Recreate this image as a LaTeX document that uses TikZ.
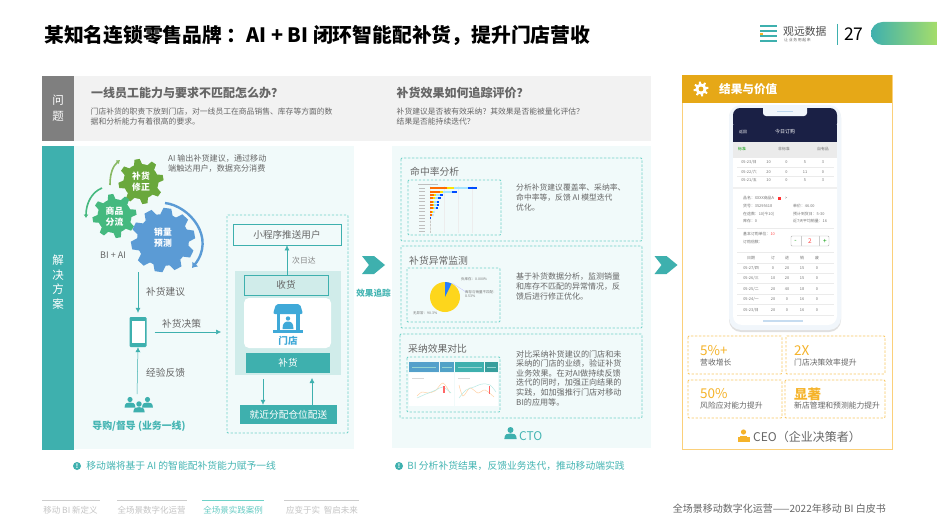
\documentclass[tikz,border=0pt]{standalone}
\usepackage{fontspec}
\setmainfont{Noto Sans CJK SC}
\usetikzlibrary{arrows.meta,positioning}
\definecolor{tealmain}{HTML}{3EB0AE}
\definecolor{tealtext}{HTML}{45B5B3}
\definecolor{teallight}{HTML}{D0ECEA}
\definecolor{tealdash}{HTML}{6FD2C8}
\definecolor{panelbg}{HTML}{F1FAFA}
\definecolor{greyband}{HTML}{F2F2F2}
\definecolor{greyhead}{HTML}{7F7F7F}
\definecolor{greytext}{HTML}{666666}
\definecolor{greymute}{HTML}{C4C4C4}
\definecolor{gearlime}{HTML}{6AA83C}
\definecolor{gearmint}{HTML}{45B97F}
\definecolor{gearblue}{HTML}{5B9BD5}
\definecolor{storeblue}{HTML}{3FA9D8}
\definecolor{amberhead}{HTML}{E6A817}
\definecolor{amberline}{HTML}{FBD07A}
\definecolor{ambertext}{HTML}{F5B32A}
\definecolor{navyhead}{HTML}{1A2045}
\definecolor{phoneedge}{HTML}{F1F6FB}
\definecolor{limeend}{HTML}{B9E65D}
\tikzset{
  txt/.style={inner sep=0pt,anchor=west,align=left,text=greytext},
  small/.style={txt,font=\fontsize{7.8}{10}\selectfont},
  heading/.style={txt,font=\bfseries\fontsize{12}{15}\selectfont},
  boxtitle/.style={txt,font=\fontsize{9.8}{13}\selectfont},
  label/.style={txt,font=\fontsize{9.7}{12}\selectfont},
  flow/.style={-{Latex[length=5pt,width=5pt]},color=tealmain,line width=0.5pt},
  tealdashbox/.style={draw=tealdash,dash pattern=on 2.4pt off 1.6pt,line width=0.8pt,rounded corners=1pt},
  amberbox/.style={draw=amberline!70!ambertext,dash pattern=on 2.4pt off 1.6pt,line width=0.8pt,rounded corners=1pt},
  figure/.style={inner sep=0pt,anchor=west,text=ambertext,font=\fontsize{13.5}{15}\selectfont},
  gain/.style={txt,font=\fontsize{7.8}{10}\selectfont},
  gearlabel/.style={inner sep=0pt,align=center,text=white,font=\bfseries\fontsize{8.8}{11}\selectfont},
  tiny/.style={inner sep=0pt,text=black!55,font=\fontsize{3.9}{5}\selectfont},
  tinyw/.style={tiny,anchor=west},
  foot/.style={inner sep=0pt,text=greymute,font=\fontsize{8.5}{10}\selectfont},
  note/.style={txt,text=tealtext,font=\fontsize{9.8}{12}\selectfont},
  notedot/.style={circle,fill=tealmain,inner sep=0pt,minimum size=8pt,text=white,font=\bfseries\fontsize{6}{6}\selectfont},
}
% gear: x, y, body radius, tooth height, teeth, colour
\newcommand{\gearicon}[6]{
  \begin{scope}[shift={(#1,#2)}]
    \fill[#6] (0,0) circle[radius=#3];
    \foreach \t in {1,...,#5}
      \fill[#6,rotate=\t*360/#5+10] (#3-1,-#3*0.24) -- (#3+#4,-#3*0.15) -- (#3+#4,#3*0.15) -- (#3-1,#3*0.24) -- cycle;
  \end{scope}
}
\newcommand{\chevronicon}[2]{
  \fill[tealmain] (#1,#2) -- (#1+12,#2) -- (#1+23,#2+9) -- (#1+12,#2+18) -- (#1,#2+18) -- (#1+7,#2+9) -- cycle;
}
% small figure: x, y of the head, scale, colour
\newcommand{\figureicon}[4]{
  \begin{scope}[shift={(#1,#2)},scale=#3]
    \fill[#4] (0,0) circle[radius=2.6];
    \fill[#4] (-5.4,8) .. controls (-5.4,3.2) and (-2.5,3) .. (0,3) .. controls (2.5,3) and (5.4,3.2) .. (5.4,8) -- cycle;
  \end{scope}
}
\begin{document}
\begin{tikzpicture}[x=1pt,y=-1pt]
\useasboundingbox (0,0) rectangle (937,527);
\fill[white] (0,0) rectangle (937,527);

% top line
\node[inner sep=0pt,anchor=west,font=\bfseries\fontsize{19.8}{24}\selectfont] (pagetitle) at (44,35) {某知名连锁零售品牌 ：AI + BI 闭环智能配补货，提升门店营收};
\foreach \y in {26,31,36,41}
  \fill[tealmain] (760,\y-1) rectangle (777,\y+1);
\fill[ambertext] (760,33) rectangle (763,35);
\node[inner sep=0pt,anchor=west,text=black!70,font=\fontsize{10.8}{12}\selectfont] (logoname) at (783,31) {观远数据};
\node[inner sep=0pt,anchor=west,text=black!60,font=\fontsize{3.9}{5}\selectfont] (logosub) at (784,40) {让\,业\,务\,用\,起\,来};
\draw[tealmain,line width=1.2pt] (837.5,24) -- (837.5,45);
\node[inner sep=0pt,anchor=west,font=\fontsize{17.5}{20}\selectfont] (pagenum) at (844,34) {27};
\shade[left color=tealmain,middle color=tealmain!60!limeend,right color=limeend,rounded corners=11.5pt] (950,22) -- (871,22) -- (871,45) -- (950,45) -- cycle;

% question band
\fill[greyband] (74,76) rectangle (651,141);
\fill[greyhead] (42,76) rectangle (74,141);
\node[inner sep=0pt,align=center,text=white,font=\fontsize{11.5}{16}\selectfont] (questionhead) at (58,108.5) {问\\题};
\node[heading] (questionone) at (91,93) {一线员工能力与要求不匹配怎么办？};
\node[small] (questiononetext) at (90.5,116.5) {门店补货的职责下放到门店，对一线员工在商品销售、库存等方面的数\\据和分析能力有着很高的要求。};
\node[heading] (questiontwo) at (396.5,92.5) {补货效果如何追踪评价？};
\node[small] (questiontwotext) at (396.5,116.5) {补货建议是否被有效采纳？其效果是否能被量化评估？\\结果是否能持续迭代？};

% solution panels
\fill[panelbg] (74,146) rectangle (354,449);
\fill[panelbg] (392,146) rectangle (651,448);
\fill[tealmain] (42,146) rectangle (73.5,450);
\node[inner sep=0pt,align=center,text=white,font=\fontsize{11.5}{14.5}\selectfont] (solutionhead) at (58,282) {解\\决\\方\\案};

% gears
\gearicon{141}{181.5}{17.5}{5}{8}{gearlime}
\gearicon{114.5}{216}{17}{5}{8}{gearmint}
\gearicon{163}{240}{26}{6}{10}{gearblue}
\node[gearlabel] (gearfix) at (141,182) {补货\\修正};
\node[gearlabel] (gearsplit) at (114.5,216.5) {商品\\分流};
\node[gearlabel] (gearsales) at (163,237.5) {销量\\预测};
\draw[-{Latex[length=3.5pt,width=5pt]},gearlime!80!white,line width=1.6pt] (110,185) .. controls (110,173) and (113,166) .. (120,160);
\draw[-{Latex[length=3.5pt,width=5pt]},gearmint,line width=1.6pt] (102,188) .. controls (92,192) and (86,203) .. (86,218);
\draw[-{Latex[length=5pt,width=8pt]},gearblue,line width=2.4pt] (165,203) .. controls (190,206) and (216,238) .. (192,268);
\node[txt,font=\fontsize{8.1}{10}\selectfont] (aitext) at (168,164) {AI 输出补货建议，通过移动\\端触达用户，数据充分消费};
\node[txt,font=\fontsize{9}{11}\selectfont] (bilabel) at (100,255) {BI + AI};

% phone and people
\coordinate (advicetop) at (138,272);
\node[fill=tealmain,rounded corners=1.2pt,minimum width=17pt,minimum height=30pt,inner sep=0pt] (phonebody) at (138,332) {};
\node[fill=white,minimum width=13pt,minimum height=22pt,inner sep=0pt] (phonescreen) at (138,332) {};
\coordinate (peopletop) at (137,395);
\coordinate (decisionend) at (221,332);
\draw[flow,shorten >=4pt] (advicetop) -- (phonebody.north);
\draw[flow,shorten <=1pt] (peopletop) -- (phonebody.south);
\draw[flow,shorten <=8pt] (phonebody.east) -- (decisionend);
\node[label] (advicelabel) at (146,292) {补货建议};
\node[label] (decisionlabel) at (162,324) {补货决策};
\node[label] (feedbacklabel) at (146,373) {经验反馈};
\figureicon{130}{399.5}{1}{tealmain}
\figureicon{147.5}{399.5}{1}{tealmain}
\fill[panelbg] (139,402) circle[radius=3.8];
\figureicon{139}{404}{1.05}{tealmain}
\node[inner sep=0pt,text=tealtext,font=\bfseries\fontsize{9.9}{12}\selectfont] (peoplelabel) at (139,426) {导购/督导 (业务一线)};

% store box
\draw[tealdashbox] (227,215) rectangle (348,433);
\node[draw=tealmain,line width=0.8pt,minimum width=108pt,minimum height=21pt,inner sep=0pt,text=greytext,font=\fontsize{9.6}{13}\selectfont] (pushbox) at (287,234.5) {小程序推送用户};
\fill[teallight] (235,271) rectangle (341,375);
\node[draw=tealmain,fill=teallight,line width=0.8pt,minimum width=84pt,minimum height=20pt,inner sep=0pt,text=greytext,font=\fontsize{9.6}{12}\selectfont] (receivebox) at (286,285) {收货};
\node[fill=white,rounded corners=5pt,minimum width=87pt,minimum height=50pt,inner sep=0pt] (storebox) at (287.5,323) {};
\node[fill=tealmain,minimum width=84pt,minimum height=20pt,inner sep=0pt,text=white,font=\fontsize{9.6}{12}\selectfont] (restockbox) at (288,363) {补货};
\node[fill=tealmain,minimum width=97pt,minimum height=19pt,inner sep=0pt,text=white,font=\fontsize{9.7}{12}\selectfont] (warehousebox) at (288.5,414.5) {就近分配仓位配送};
\draw[flow] (receivebox.north -| 287,0) -- (pushbox.south -| 287,0);
\node[small,text=greytext!80] (nextday) at (292,261) {次日达};
\coordinate (downtop) at (263,379);
\coordinate (uptop) at (312,378);
\draw[flow] (downtop) -- (downtop |- warehousebox.north);
\draw[flow] (uptop |- warehousebox.north) -- (uptop);
% store icon
\fill[storeblue,rounded corners=2pt] (276,304) -- (300,304) -- (303,314) -- (273,314) -- cycle;
\fill[storeblue] (276.5,314) rectangle (280,331);
\fill[storeblue] (296,314) rectangle (299.5,331);
\fill[storeblue] (273,330) rectangle (303,333);
\fill[storeblue] (288,318.5) circle[radius=2.2];
\fill[storeblue] (282.5,329) .. controls (282.5,323) and (285,321.5) .. (288,321.5) .. controls (291,321.5) and (293.5,323) .. (293.5,329) -- cycle;
\node[inner sep=0pt,text=storeblue,font=\bfseries\fontsize{9.6}{12}\selectfont] (storelabel) at (288,340.5) {门店};

% chevrons
\chevronicon{362}{256}
\chevronicon{654.5}{256}
\node[inner sep=0pt,text=tealtext,font=\bfseries\fontsize{8.6}{11}\selectfont] (tracklabel) at (373.5,293) {效果追踪};

% three checks
\draw[tealdashbox] (401,158) rectangle (642,241);
\draw[tealdashbox] (408,180) rectangle (501,235);
\node[boxtitle] (hitrate) at (410,172) {命中率分析};
\node[small] (hitratetext) at (516,198) {分析补货建议覆盖率、采纳率、\\命中率等，反馈 AI 模型迭代\\优化。};
\draw[tealdashbox] (401,246) rectangle (642,328);
\draw[tealdashbox] (407,268) rectangle (500,322);
\node[boxtitle] (abnormal) at (409,261) {补货异常监测};
\node[txt,font=\fontsize{8}{10}\selectfont] (abnormaltext) at (516,286) {基于补货数据分析，监测销量\\和库存不匹配的异常情况，反\\馈后进行修正优化。};
\draw[tealdashbox] (400,334) rectangle (642,418);
\draw[tealdashbox] (407,357) rectangle (500,412);
\node[boxtitle] (compare) at (408,349) {采纳效果对比};
\node[txt,font=\fontsize{8.1}{9.6}\selectfont] (comparetext) at (516,378) {对比采纳补货建议的门店和未\\采纳的门店的业绩，验证补货\\业务效果。在对AI做持续反馈\\迭代的同时，加强正向结果的\\实践，如加强推行门店对移动\\BI的应用等。};
% bar thumbnail
\foreach \x in {430,444,458,472}
  \draw[black!7,line width=0.3pt] (\x,186) -- (\x,233);
\fill[black!25] (418,183.6) rectangle (438,184.4);
\foreach \o/\e/\l/\b [count=\r] in {17/7/14/9,10/3/9/5,4/2/4/3,3/2/3/3,3/1/3/2,3/1/3/2,3/1/2/2,2/1/1/0,2/0/1/0,0/0/0/1,0/0/0/0,0/0/0/0,0/0/0/0,0/0/0/0}{
  \pgfmathsetmacro{\ry}{188.3+(\r-1)*3.35}
  \fill[black!25] (419,\ry-0.4) rectangle (425,\ry+0.4);
  \fill[orange!85!red] (430,\ry-1) rectangle ++(\o,2);
  \fill[yellow!85!orange] (430+\o,\ry-1) rectangle ++(\e,2);
  \fill[blue!30!cyan!35] (430+\o+\e,\ry-1) rectangle ++(\l,2);
  \fill[blue!70!cyan] (430+\o+\e+\l,\ry-1) rectangle ++(\b,2);
}
% pie thumbnail
\fill[yellow!70!orange!90] (445,297) circle[radius=15];
\fill[blue!60!cyan!85] (445,297) -- (445,282) arc[start angle=-90,end angle=-64,radius=15] -- cycle;
\draw[blue!25,line width=0.3pt] (452,283) -- (466,292);
\node[tinyw,font=\fontsize{3.5}{4.6}\selectfont] (pieone) at (461,279) {负库存：0.000\%};
\node[tinyw,align=left,font=\fontsize{3.5}{4.6}\selectfont] (pietwo) at (465,294) {库存与销量不匹配：\\8.53\%};
\node[tinyw,font=\fontsize{3.5}{4.6}\selectfont] (piethree) at (413,313) {无异常：90.3\%};
% line thumbnail
\fill[white] (409,373) rectangle (454,406);
\fill[white] (455,373) rectangle (498,406);
\fill[gearblue!75!tealmain] (409,362) rectangle (439,372);
\fill[gearblue!65!tealmain] (440,362) rectangle (454,372);
\fill[tealmain] (455,362) rectangle (484,372);
\fill[tealmain!90!black] (485,362) rectangle (498,372);
\foreach \a/\b in {412/436,442/452,458/482,487/496}
  \draw[white!45!tealmain,line width=0.5pt] (\a,367) -- (\b,367);
\draw[orange!35,line width=0.5pt] plot[smooth] coordinates {(417,396) (422,392) (428,393) (435,391) (443,383) (450,393)};
\draw[tealdash!50,line width=0.5pt] plot[smooth] coordinates {(417,398) (426,394) (436,390) (443,387) (451,393)};
\draw[orange!35,line width=0.5pt] plot[smooth] coordinates {(459,385) (463,396) (470,388) (478,393) (485,390) (494,397)};
\draw[tealdash!50,line width=0.5pt] plot[smooth] coordinates {(459,398) (466,390) (474,387) (482,384) (490,385) (496,392)};
\fill[red!60] (443,386) rectangle (444.5,393);
\fill[red!60] (488.5,386) rectangle (490,394);
\foreach \a/\b in {412/424,458/470}
  \draw[black!15,line width=0.3pt] (\a,378) -- (\b,378);
\figureicon{510.5}{430}{1.15}{tealmain}
\node[inner sep=0pt,anchor=west,text=tealtext,font=\fontsize{12}{14}\selectfont] (ctolabel) at (519,436) {CTO};

% notes
\node[notedot] (noteone) at (77,466) {!};
\node[note,right=5pt of noteone] (noteonetext) {移动端将基于 AI 的智能配补货能力赋予一线};
\node[notedot] (notetwo) at (399,466) {!};
\node[note,right=4pt of notetwo] (notetwotext) {BI 分析补货结果，反馈业务迭代，推动移动端实践};

% result panel
\draw[amberline,line width=0.8pt] (682,75) rectangle (892,449);
\fill[amberhead] (682,75) rectangle (892,103);
\gearicon{701}{89}{5.5}{2}{8}{white}
\fill[amberhead] (701,89) circle[radius=2.4];
\node[inner sep=0pt,anchor=west,text=white,font=\bfseries\fontsize{11.6}{14}\selectfont] (resulthead) at (719,89) {结果与价值};

% phone mock
\fill[black!12,rounded corners=12pt] (729,106) rectangle (841,332);
\fill[phoneedge,rounded corners=12pt] (729,105) rectangle (841,330);
\fill[white,rounded corners=9pt] (733,108) rectangle (837,325);
\fill[navyhead,rounded corners=7pt] (733,108) -- (837,108) -- (837,130) -- (733,130) -- cycle;
\fill[navyhead] (733,125) rectangle (837,142);
\fill[phoneedge,rounded corners=3pt] (763,105) rectangle (807,116);
\draw[gearblue!40,line width=1pt] (777,111) -- (793,111);
\node[tiny,text=white!80] (backlabel) at (743,132) {返回};
\node[tiny,text=white,font=\fontsize{5}{6}\selectfont] (orderlabel) at (785,132) {今日订购};
\fill[black!8] (733,142) rectangle (837,158);
\node[tiny,text=green!60!black] (tabone) at (742,149) {标准};
\node[tiny] (tabtwo) at (784,149) {非标准};
\node[tiny] (tabthree) at (823,149) {自有品};
\foreach \y/\d/\p/\q/\s/\t [count=\r] in {162/{05-23/日}/10/0/5/3,172/{05-22/六}/20/0/11/0,180.5/{05-21/五}/10/0/5/3}
  \foreach \cx/\cv [count=\c] in {749/\d,768.5/\p,786.5/\q,805/\s,823/\t}
    \node[tiny] (topcell\r\c) at (\cx,\y) {\cv};
\foreach \y in {167,176.5}
  \draw[black!8,line width=0.3pt] (737,\y) -- (834,\y);
\fill[black!6] (733,187) rectangle (837,189);
\node[tinyw] (itemname) at (743,198) {品名：XXXX商品A};
\fill[red!80] (778,196.5) rectangle (781,199.5);
\node[tinyw] (itemarrow) at (785,198) {>};
\node[tinyw] (itemcode) at (743,206) {货号：35295618};
\node[tinyw] (itemprice) at (793,206) {单价：46.00};
\node[tinyw] (itemtransit) at (743,214) {在途数：10[今10]};
\node[tinyw] (itemdate) at (793,214) {预计到货日：5-30};
\node[tinyw] (itemstock) at (743,221.5) {库存：0};
\node[tinyw] (itemsales) at (793,221.5) {近7天平均销量：16};
\draw[black!8,line width=0.3pt] (737,228) -- (834,228);
\node[tinyw] (unitlabel) at (743,234) {基本订购单位：\textcolor{red!70}{10}};
\node[tinyw] (timeslabel) at (743,242) {订购倍数：};
\draw[black!30,rounded corners=1pt,line width=0.4pt] (791,236) rectangle (829,246);
\draw[black!20,line width=0.3pt] (801,236) -- (801,246) (819,236) -- (819,246);
\node[tiny,text=green!60!black,font=\fontsize{6.5}{7}\selectfont] (stepminus) at (795.5,241) {-};
\node[tiny,text=red!70,font=\fontsize{6.5}{7}\selectfont] (stepvalue) at (810,241) {2};
\node[tiny,text=green!60!black,font=\fontsize{6.5}{7}\selectfont] (stepplus) at (825,241) {+};
\draw[black!8,line width=0.3pt] (737,252) -- (834,252);
\foreach \y/\d/\p/\q/\s/\t [count=\r] in {258/日期/订/进/销/废,268/{05-27/四}/0/20/15/0,278.5/{05-26/三}/10/20/15/0,289/{05-25/二}/20/40/18/0,299.5/{05-24/一}/20/0/16/0,310/{05-23/日}/20/0/16/0}
  \foreach \cx/\cv [count=\c] in {751/\d,773/\p,787/\q,802/\s,817/\t}
    \node[tiny] (lowcell\r\c) at (\cx,\y) {\cv};
\foreach \y in {263,273,283.5,294,304.5,315}
  \draw[black!8,line width=0.3pt] (737,\y) -- (834,\y);
\draw[gearblue!35,line width=1.8pt] (763,321) -- (803,321);

% result boxes
\draw[amberbox] (688,336) rectangle (782,374);
\draw[amberbox] (786,336) rectangle (885,374);
\draw[amberbox] (688,380) rectangle (782,418);
\draw[amberbox] (785,380) rectangle (885,418);
\node[figure] (gainone) at (700,351) {5\%+};
\node[gain] (gainonetext) at (700,363) {营收增长};
\node[figure] (gaintwo) at (794,351) {2X};
\node[gain] (gaintwotext) at (794,363) {门店决策效率提升};
\node[figure] (gainthree) at (700,394) {50\%};
\node[gain] (gainthreetext) at (700,406) {风险应对能力提升};
\node[figure,font=\bfseries\fontsize{13.5}{15}\selectfont] (gainfour) at (794,394) {显著};
\node[gain] (gainfourtext) at (794,406) {新店管理和预测能力提升};
% ceo icon
\fill[ambertext] (743.5,432) circle[radius=2.6];
\fill[ambertext] (740,435.5) rectangle (747,442);
\fill[ambertext] (737.5,437) rectangle (742,442);
\fill[ambertext] (745,437) rectangle (749.5,442);
\node[inner sep=0pt,anchor=west,text=greytext,font=\fontsize{12}{14}\selectfont] (ceolabel) at (753,436.5) {CEO（企业决策者）};

% footer
\draw[black!20,line width=0.5pt] (42,500) -- (100,500);
\draw[black!20,line width=0.5pt] (117,500) -- (187,500);
\draw[tealdash,line width=0.7pt] (202,500) -- (264,500);
\draw[black!20,line width=0.5pt] (284,500) -- (359,500);
\node[foot] (footone) at (70.5,510) {移动 BI 新定义};
\node[foot] (foottwo) at (151.5,510) {全场景数字化运营};
\node[foot,text=tealdash!80!tealmain] (footthree) at (233,510) {全场景实践案例};
\node[foot] (footfour) at (322,510) {应变于实\ \ 智启未来};
\node[inner sep=0pt,anchor=east,text=greytext,font=\fontsize{10}{11}\selectfont] (booktitle) at (886,509) {全场景移动数字化运营——2022年移动 BI 白皮书};
\end{tikzpicture}
\end{document}
